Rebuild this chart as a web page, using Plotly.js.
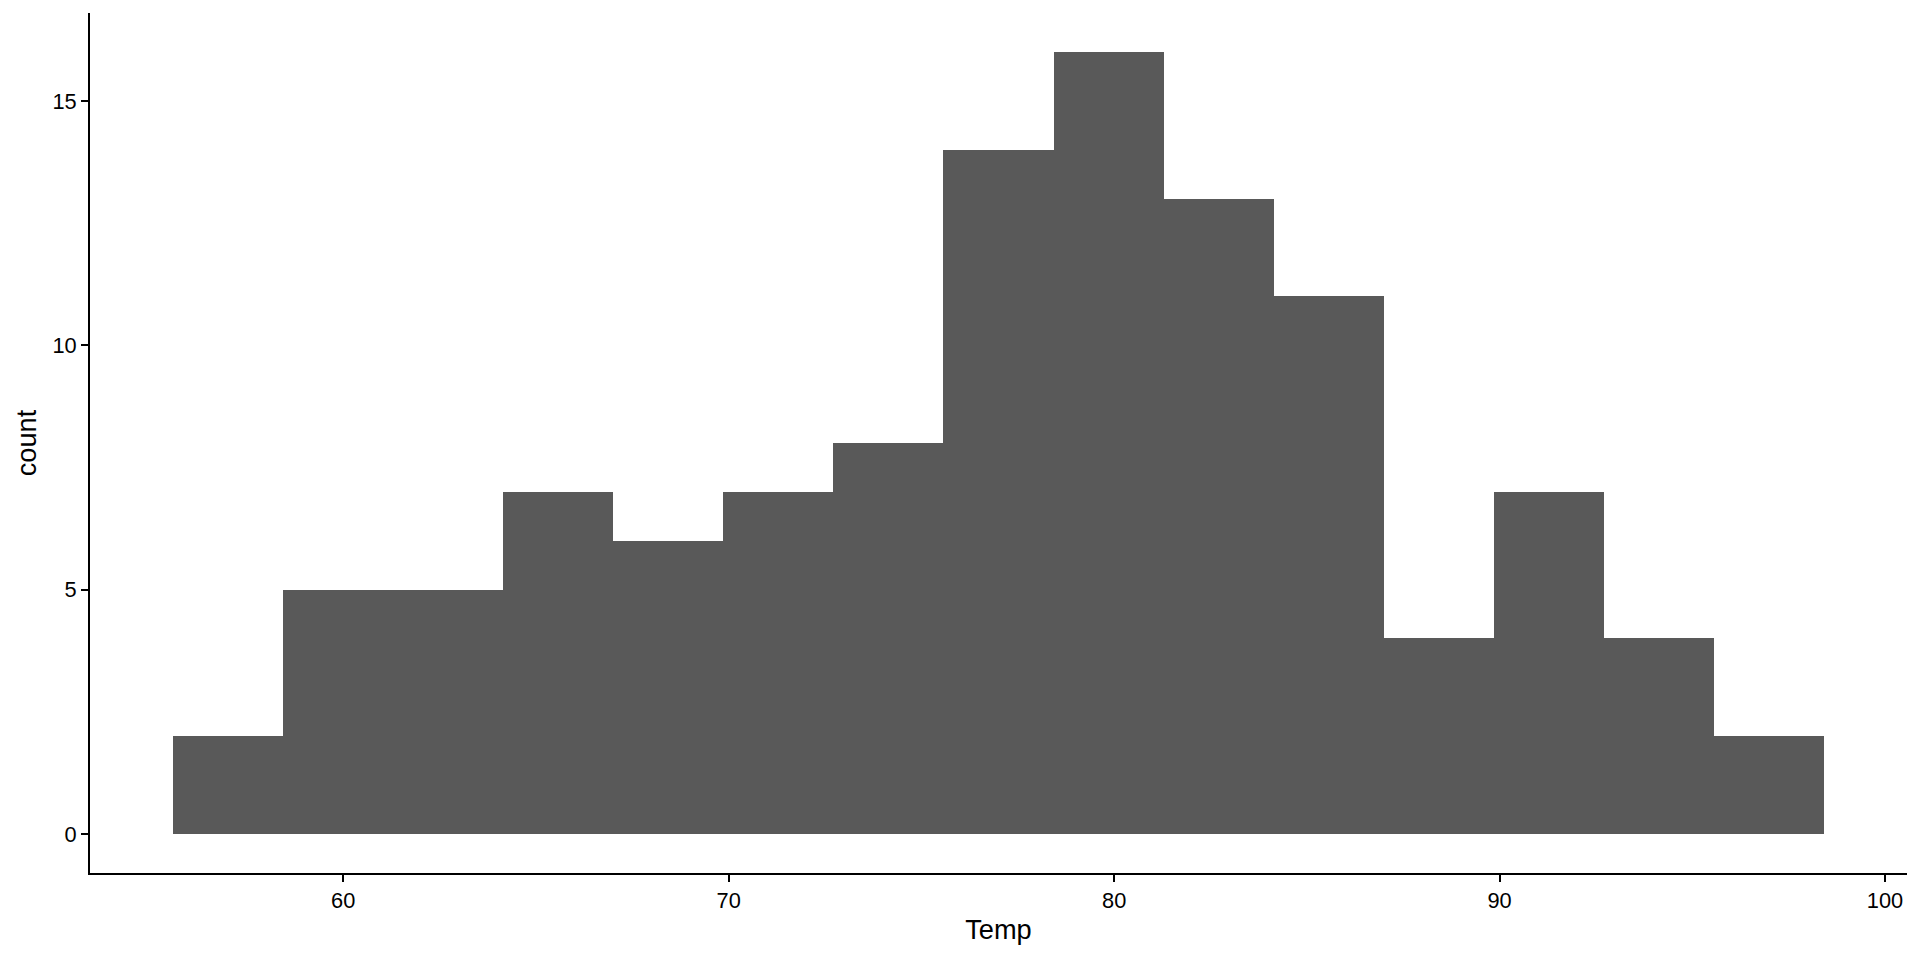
<!DOCTYPE html>
<html>
<head>
<meta charset="utf-8">
<script src="https://cdn.plot.ly/plotly-3.0.1.min.js"></script>
<style>html,body{margin:0;padding:0;background:#fff}#chart{width:1920px;height:960px}</style>
</head>
<body>
<div id="chart"></div>
<script>
// Histogram of Temp (15 bins, width 40/14)
const binCenters = [57, 59.857, 62.714, 65.571, 68.429, 71.286, 74.143, 77, 79.857, 82.714, 85.571, 88.429, 91.286, 94.143, 97];
const counts = [2, 5, 5, 7, 6, 7, 8, 14, 16, 13, 11, 4, 7, 4, 2];
const binWidth = 40 / 14;
const xTicks = [60, 70, 80, 90, 100];
const yTicks = [0, 5, 10, 15];

const font = "Liberation Sans, Arial, Helvetica, sans-serif";

Plotly.newPlot('chart', [{
  type: 'bar',
  x: binCenters,
  y: counts,
  width: binCenters.map(() => binWidth),
  marker: {color: '#595959', line: {width: 0}},
  hoverinfo: 'x+y'
}], {
  width: 1920, height: 960,
  margin: {l: 89.5, r: 13.3, t: 13, b: 86.5, pad: 0},
  paper_bgcolor: '#ffffff', plot_bgcolor: '#ffffff',
  bargap: 0,
  showlegend: false,
  font: {family: font, color: '#000000'},
  xaxis: {
    range: [53.43, 100.57],
    tickvals: xTicks, ticktext: xTicks.map(String),
    showgrid: false, zeroline: false,
    showline: true, linecolor: '#000000', linewidth: 1.9,
    ticks: 'outside', ticklen: 7, tickwidth: 1.9, tickcolor: '#000000',
    tickfont: {size: 21.8, color: '#000000', family: font},
    title: {text: 'Temp', font: {size: 27.2, color: '#000000', family: font}, standoff: 8},
    automargin: false
  },
  yaxis: {
    range: [-0.8, 16.8],
    tickvals: yTicks, ticktext: yTicks.map(String),
    showgrid: false, zeroline: false,
    showline: true, linecolor: '#000000', linewidth: 1.9,
    ticks: 'outside', ticklen: 7, tickwidth: 1.9, tickcolor: '#000000',
    tickfont: {size: 21.8, color: '#000000', family: font},
    title: {text: 'count', font: {size: 27.2, color: '#000000', family: font}, standoff: 8},
    automargin: false
  }
}, {displayModeBar: false, staticPlot: false});
</script>
</body>
</html>
